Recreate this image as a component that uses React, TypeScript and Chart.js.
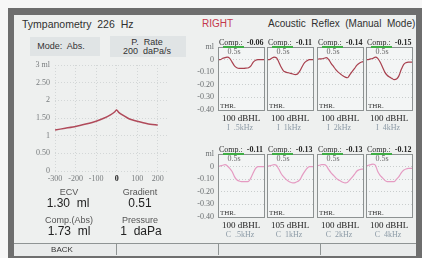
import React, { useEffect, useRef } from "react";
import { Chart, registerables } from "chart.js";
Chart.register(...registerables);

// ---------- DATA ----------
const tympPressure = [-300, -250, -200, -150, -100, -60, -30, -10, 0, 10, 30, 60, 100, 150, 200];
const tympCompliance = [1.16, 1.21, 1.26, 1.33, 1.41, 1.5, 1.59, 1.67, 1.73, 1.66, 1.58, 1.48, 1.41, 1.34, 1.3];
const tympXTicks = [-300, -200, -100, 0, 100, 200];
const tympXLabels = ["-300", "-200", "-100", "0", "100", "200"];
const tympYTicks = [0, 0.5, 1, 1.5, 2, 2.5, 3];
const tympYLabels = ["0", "0.50", "1", "1.50", "2", "2.50", "3 ml"];

const reflexTime = ["0", "1", "2", "3", "4", "5", "6", "7", "8", "9", "10", "11", "12", "13", "14", "15", "16", "17", "18", "19", "20"];
const reflexYTicks = [0.1, 0, -0.1, -0.2, -0.3, -0.4];
const reflexYLabels = ["ml", "0", "-0.10", "-0.20", "-0.30", "-0.40"];

const ipsiFreqs = [".5kHz", "1kHz", "2kHz", "4kHz"];
const ipsiLevels = ["100", "100", "100", "100"];
const ipsiComp = ["-0.06", "-0.11", "-0.14", "-0.15"];
const ipsi500 = [0, 0, 0.01, 0.015, 0.02, 0.01, -0.02, -0.05, -0.065, -0.07, -0.07, -0.07, -0.068, -0.065, -0.05, -0.02, -0.005, 0, 0, 0, 0];
const ipsi1k = [0, 0, 0.01, 0.02, 0.015, -0.02, -0.06, -0.09, -0.1, -0.105, -0.11, -0.115, -0.12, -0.115, -0.09, -0.055, -0.025, -0.01, 0, 0, 0];
const ipsi2k = [0, 0.005, 0.005, 0.01, 0.015, 0, -0.03, -0.055, -0.08, -0.1, -0.115, -0.13, -0.14, -0.145, -0.12, -0.095, -0.07, -0.045, -0.03, -0.02, -0.015];
const ipsi4k = [0, 0, 0.005, 0.01, 0.02, 0.01, -0.02, -0.06, -0.1, -0.125, -0.14, -0.15, -0.16, -0.155, -0.13, -0.08, -0.04, -0.025, -0.02, -0.02, -0.02];

const contraFreqs = [".5kHz", "1kHz", "2kHz", "4kHz"];
const contraLevels = ["100", "105", "100", "100"];
const contraComp = ["-0.11", "-0.13", "-0.13", "-0.12"];
const contra500 = [0, 0.005, 0.01, 0.015, 0.005, -0.015, -0.04, -0.08, -0.105, -0.115, -0.12, -0.12, -0.12, -0.118, -0.09, -0.05, -0.015, 0, 0, 0, 0];
const contra1k = [0, 0.005, 0.01, 0.015, 0.01, -0.02, -0.055, -0.08, -0.1, -0.115, -0.125, -0.13, -0.128, -0.12, -0.105, -0.07, -0.04, -0.015, 0, 0, 0];
const contra2k = [0.005, 0.01, 0.015, 0.015, 0.005, -0.025, -0.05, -0.07, -0.09, -0.105, -0.115, -0.125, -0.13, -0.125, -0.105, -0.085, -0.06, -0.035, -0.025, -0.02, -0.02];
const contra4k = [0, 0.01, 0.015, 0.02, 0.01, -0.04, -0.07, -0.09, -0.11, -0.12, -0.12, -0.12, -0.12, -0.1, -0.08, -0.05, -0.03, -0.02, -0.015, -0.015, -0.015];

const ipsiSeries = [ipsi500, ipsi1k, ipsi2k, ipsi4k];
const contraSeries = [contra500, contra1k, contra2k, contra4k];

// ---------- STYLE ----------
const SERIF = "'Liberation Serif', serif";
const SANS = "'Liberation Sans', 'DejaVu Sans', sans-serif";

function CanvasChart({ left, top, width, height, makeConfig }: any) {
  const ref = useRef<HTMLCanvasElement>(null);
  useEffect(() => {
    const chart = new Chart(ref.current as HTMLCanvasElement, makeConfig());
    return () => chart.destroy();
  }, []);
  return (
    <canvas
      ref={ref}
      width={width}
      height={height}
      style={{ position: "absolute", left, top, width, height }}
    />
  );
}

const boxPlugin = {
  id: "boxFrame",
  beforeDraw(chart: any) {
    const { ctx, chartArea } = chart;
    const { left, top, right, bottom } = chartArea;
    ctx.save();
    ctx.fillStyle = "#f3f5f5";
    ctx.fillRect(left, top, right - left, bottom - top);
    ctx.restore();
  },
  afterDatasetsDraw(chart: any) {
    const { ctx, chartArea } = chart;
    const { left, top, right, bottom } = chartArea;
    ctx.save();
    ctx.strokeStyle = "#8d9292";
    ctx.lineWidth = 1;
    ctx.strokeRect(left + 0.5, top + 0.5, right - left - 1, bottom - top - 1);
    ctx.restore();
  },
};

function reflexConfig(values: number[], color: string, showTicks: boolean) {
  return {
    type: "line",
    data: {
      labels: reflexTime,
      datasets: [
        {
          data: values,
          borderColor: color,
          borderWidth: 1.2,
          pointRadius: 0,
          cubicInterpolationMode: "monotone",
          fill: false,
        },
      ],
    },
    options: {
      animation: false,
      responsive: false,
      devicePixelRatio: 1,
      events: [],
      layout: { padding: { top: 6, bottom: 6, left: 0, right: 0 } },
      plugins: { legend: { display: false }, tooltip: { enabled: false } },
      scales: {
        x: { display: false, offset: false },
        y: {
          min: -0.41,
          max: 0.1,
          afterBuildTicks: (s: any) => {
            s.ticks = reflexYTicks.map((v) => ({ value: v }));
          },
          afterFit: (s: any) => {
            s.width = showTicks ? 28 : 0;
            s.paddingTop = 0;
            s.paddingBottom = 0;
          },
          ticks: {
            display: showTicks,
            padding: 4,
            color: "#6a6e70",
            font: { family: SERIF, size: 8 },
            callback: (_v: any, i: number) => reflexYLabels[i],
          },
          grid: {
            drawTicks: false,
            lineWidth: 1,
            color: (ctx: any) =>
              ctx.tick && (ctx.tick.value === 0.1 || ctx.tick.value === -0.4)
                ? "rgba(0,0,0,0)"
                : "#c9cdcd",
            borderDash: [1, 2],
          },
          border: { display: false, dash: [1, 2] },
        },
      },
    },
    plugins: [boxPlugin],
  };
}

function tympConfig() {
  return {
    type: "line",
    data: {
      datasets: [
        {
          data: tympPressure.map((p, i) => ({ x: p, y: tympCompliance[i] })),
          borderColor: "#b04a5a",
          borderWidth: 1.5,
          pointRadius: 0,
          tension: 0.2,
          fill: false,
        },
      ],
    },
    options: {
      animation: false,
      responsive: false,
      devicePixelRatio: 1,
      events: [],
      layout: { padding: { top: 10, right: 6, bottom: 2, left: 0 } },
      plugins: { legend: { display: false }, tooltip: { enabled: false } },
      scales: {
        x: {
          type: "linear",
          min: -300,
          max: 250,
          afterBuildTicks: (s: any) => {
            s.ticks = tympXTicks.map((v) => ({ value: v }));
          },
          afterFit: (s: any) => {
            s.height = 14;
            s.paddingLeft = 0;
            s.paddingRight = 0;
          },
          ticks: {
            padding: 3,
            maxRotation: 0,
            autoSkip: false,
            color: (ctx: any) => (ctx.tick && ctx.tick.value === 0 ? "#222" : "#777b7d"),
            font: (ctx: any) => ({
              family: SERIF,
              size: 8,
              weight: ctx.tick && ctx.tick.value === 0 ? "bold" : "normal",
            }),
            callback: (_v: any, i: number) => tympXLabels[i],
          },
          grid: { drawTicks: false, color: "#d3d7d7", lineWidth: 1, borderDash: [1, 2] },
          border: { display: false, dash: [1, 2] },
        },
        y: {
          min: 0,
          max: 3,
          afterBuildTicks: (s: any) => {
            s.ticks = tympYTicks.map((v) => ({ value: v }));
          },
          afterFit: (s: any) => {
            s.width = 41;
            s.paddingTop = 0;
            s.paddingBottom = 0;
          },
          ticks: {
            padding: 5,
            color: "#777b7d",
            font: { family: SERIF, size: 8 },
            callback: (_v: any, i: number) => tympYLabels[i],
          },
          grid: { drawTicks: false, color: "#d3d7d7", lineWidth: 1, borderDash: [1, 2] },
          border: { display: false, dash: [1, 2] },
        },
      },
    },
  };
}

function Txt({ x, y, children, size = 9, family = SANS, color = "#333", weight = "normal", align = "center" }: any) {
  const tx = align === "center" ? "-50%" : align === "right" ? "-100%" : "0";
  return (
    <div
      style={{
        position: "absolute",
        left: x,
        top: y,
        transform: `translate(${tx}, -50%)`,
        fontSize: size,
        fontFamily: family,
        color,
        fontWeight: weight,
        whiteSpace: "pre",
        lineHeight: 1,
      }}
    >
      {children}
    </div>
  );
}

function ReflexRow({ boxTop, series, color, comps, levels, freqs, prefix }: any) {
  const lefts = [218, 267, 317, 366];
  const boxW = 47;
  const boxH = 64;
  return (
    <>
      {lefts.map((L, i) => (
        <React.Fragment key={i}>
          <CanvasChart
            left={i === 0 ? L - 28 : L}
            top={boxTop - 6}
            width={i === 0 ? boxW + 28 : boxW}
            height={boxH + 12}
            makeConfig={() => reflexConfig(series[i], color, i === 0)}
          />
          <Txt x={L + 1} y={boxTop - 4} size={8} family={SERIF} color="#2a2a2a" align="left">
            {"Comp.:  "}
            <b>{comps[i]}</b>
          </Txt>
          <div
            style={{
              position: "absolute",
              left: L + 5,
              top: boxTop - 1,
              width: 21,
              height: 2,
              background: "#3fae45",
            }}
          />
          <Txt x={L + 16} y={boxTop + 5} size={8} family={SERIF} color="#666">
            0.5s
          </Txt>
          <Txt x={L + 2} y={boxTop + 59} size={7} family={SERIF} color="#333" align="left">
            THR.
          </Txt>
          <Txt x={L + 23} y={boxTop + 71} size={9} family={SERIF} color="#222">
            {levels[i] + " dBHL"}
          </Txt>
          <Txt x={L + 22} y={boxTop + 81} size={8} family={SERIF} color="#8c9aa6">
            {prefix + "  " + freqs[i]}
          </Txt>
        </React.Fragment>
      ))}
    </>
  );
}

export default function App() {
  return (
    <div style={{ position: "fixed", left: 0, top: 0, width: 422, height: 258, background: "#f7f7f7", overflow: "hidden" }}>
      {/* device frame */}
      <div style={{ position: "absolute", left: 8, top: 8, width: 414, height: 250, background: "#6e6e6e" }} />
      {/* screen */}
      <div style={{ position: "absolute", left: 14, top: 15, width: 402, height: 240, background: "#eef0ef" }} />

      {/* titles */}
      <Txt x={22} y={24} size={10.5} color="#303030" align="left">Tympanometry  226  Hz</Txt>
      <Txt x={202} y={24} size={10} color="#c4384c" align="left">RIGHT</Txt>
      <Txt x={268} y={24} size={10} color="#303030" align="left">Acoustic  Reflex  (Manual  Mode)</Txt>

      {/* header boxes */}
      <div style={{ position: "absolute", left: 30, top: 37, width: 70, height: 19, background: "#e0e4e5" }} />
      <div style={{ position: "absolute", left: 110, top: 36, width: 76, height: 21, background: "#e0e4e5" }} />
      <Txt x={61} y={46} size={9} color="#333">Mode:  Abs.</Txt>
      <Txt x={147} y={42} size={9} color="#333">P.  Rate</Txt>
      <Txt x={147} y={51} size={9} color="#333">200  daPa/s</Txt>

      {/* tympanogram */}
      <CanvasChart left={14} top={55} width={160} height={132} makeConfig={tympConfig} />

      {/* tympanogram results */}
      <Txt x={69} y={192} size={9} color="#555">ECV</Txt>
      <Txt x={68} y={203} size={12} color="#222">1.30  ml</Txt>
      <Txt x={140} y={192} size={9} color="#555">Gradient</Txt>
      <Txt x={140} y={203} size={12} color="#222">0.51</Txt>
      <Txt x={69} y={220} size={9} color="#555">Comp.(Abs)</Txt>
      <Txt x={69} y={231} size={12} color="#222">1.73  ml</Txt>
      <Txt x={140} y={220} size={9} color="#555">Pressure</Txt>
      <Txt x={141} y={231} size={12} color="#222">1  daPa</Txt>

      {/* reflex rows */}
      <ReflexRow boxTop={47} series={ipsiSeries} color="#a8404e" comps={ipsiComp} levels={ipsiLevels} freqs={ipsiFreqs} prefix="I" />
      <ReflexRow boxTop={154} series={contraSeries} color="#e59bc2" comps={contraComp} levels={contraLevels} freqs={contraFreqs} prefix="C" />

      {/* bottom button bar */}
      <div style={{ position: "absolute", left: 14, top: 243, width: 402, height: 12, background: "#e9ebeb", borderTop: "1px solid #8f9494" }} />
      {[116, 218, 320].map((x) => (
        <div key={x} style={{ position: "absolute", left: x, top: 243, width: 1, height: 12, background: "#8f9494" }} />
      ))}
      <Txt x={62} y={250} size={8} color="#333">BACK</Txt>
    </div>
  );
}
